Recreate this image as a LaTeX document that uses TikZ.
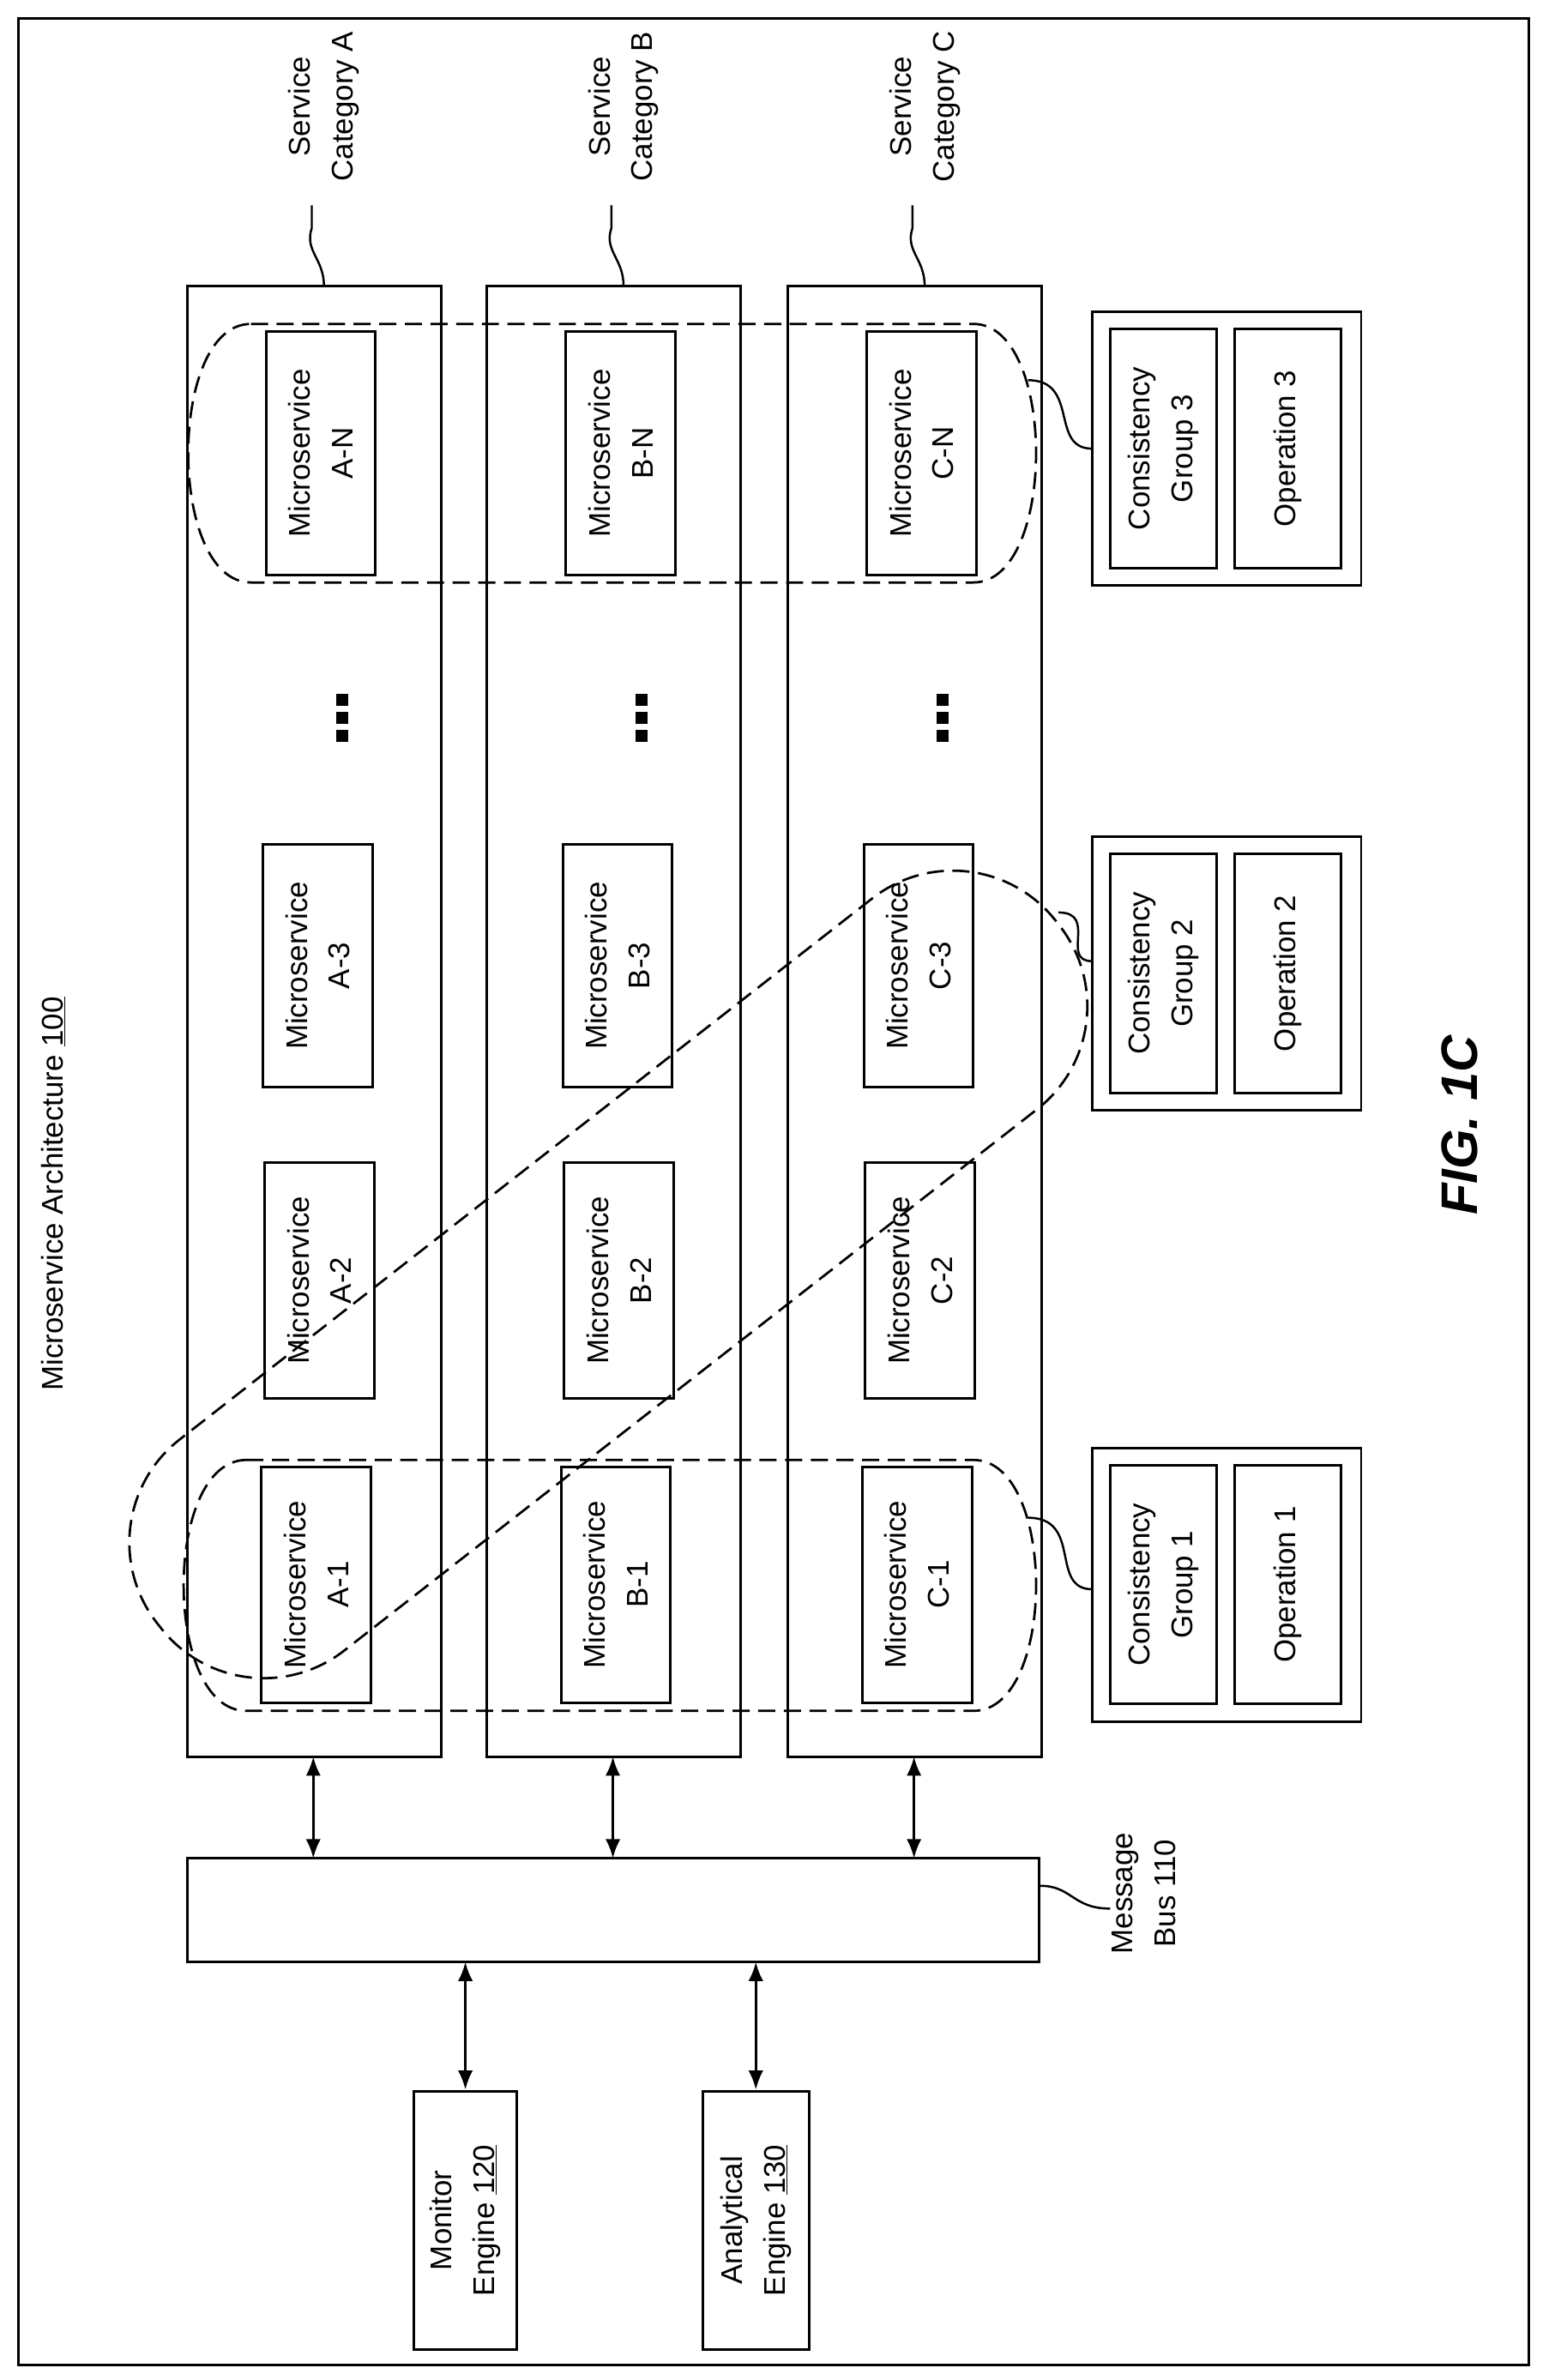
\documentclass[tikz,border=0pt]{standalone}
\usepackage{fontspec}
\setmainfont{Liberation Sans}
\usetikzlibrary{arrows.meta}
\begin{document}
\begin{tikzpicture}[x=0.05cm,y=-0.05cm,
  box/.style={draw,line width=2.4pt},
  txt/.style={rotate=90,align=center,font=\fontsize{28}{40}\selectfont},
  grp/.style={draw,line width=2.2pt,dash pattern=on 16pt off 8pt},
  arr/.style={line width=2.6pt,{Latex[length=18pt,width=14pt]}-{Latex[length=18pt,width=14pt]}},
  lead/.style={line width=2pt}]
\useasboundingbox (0,0) rectangle (1030,1565);
\draw[box] (12,12) rectangle (1005,1555);
\node[txt] (title) at (35,785) {Microservice Architecture \underline{100}};
\foreach \c/\dx [count=\i] in {A/0,B/197,C/395}{
  \draw[box] (123+\dx,188) rectangle (290+\dx,1155);
  \node[box,txt,minimum width=160*0.05cm,minimum height=72*0.05cm] (m\c N) at (211+\dx,298) {Microservice\\\c-N};
  \node[box,txt,minimum width=160*0.05cm,minimum height=72*0.05cm] (m\c 3) at (209+\dx,635) {Microservice\\\c-3};
  \node[box,txt,minimum width=155*0.05cm,minimum height=72*0.05cm] (m\c 2) at (210+\dx,842) {Microservice\\\c-2};
  \node[box,txt,minimum width=155*0.05cm,minimum height=72*0.05cm] (m\c 1) at (208+\dx,1042) {Microservice\\\c-1};
  \foreach \yy in {460,472,484} \fill (225+\dx-4,\yy-4) rectangle (225+\dx+4,\yy+4);
  \node[txt] (cat\c) at (213+\dx,70) {Service\\Category \c};
  \coordinate (ct\c) at (213+\dx,188);
  \coordinate (cl\c) at (205+\dx,135);
  \draw[lead] (ct\c) .. controls (213+\dx,170) and (200+\dx,165) .. (205+\dx,150) -- (cl\c);
  \coordinate (cb\c) at (206+\dx,1155);
  \coordinate (bt\c) at (206+\dx,1222);
  \draw[arr] (cb\c) -- (bt\c);
}
\draw[grp] (165,213) -- (640,213) .. controls (695,213) and (695,383) .. (640,383) -- (165,383) .. controls (110,383) and (110,213) .. (165,213);
\draw[grp] (162,960) -- (640,960) .. controls (695,960) and (695,1125) .. (640,1125) -- (162,1125) .. controls (107,1125) and (107,960) .. (162,960);
\node[grp,rectangle,rounded corners=4.3cm,minimum width=37.5cm,minimum height=8.8cm,rotate=38] (g2) at (400,838) {};
\foreach \n/\y in {3/295,2/640,1/1042}{
  \draw[box] (718,\y-90) rectangle (895,\y+90);
  \node[box,txt,minimum width=157*0.05cm,minimum height=70*0.05cm] (cg\n) at (765,\y) {Consistency\\Group \n};
  \node[box,txt,minimum width=157*0.05cm,minimum height=70*0.05cm] (op\n) at (847,\y) {Operation \n};
}
\draw[lead] (676,250) .. controls (710,250) and (690,295) .. (718,295);
\draw[lead] (696,600) .. controls (722,600) and (697,632) .. (718,632);
\draw[lead] (676,998) .. controls (712,998) and (690,1045) .. (718,1045);
\node[box,minimum width=560*0.05cm,minimum height=68*0.05cm] (bus) at (403,1256) {};
\node[txt] (buslbl) at (752,1245) {Message\\Bus 110};
\draw[lead] (bus.east) ++(0,-16) .. controls (705,1240) and (705,1255) .. (730,1255);
\node[box,txt,minimum width=170*0.05cm,minimum height=68*0.05cm] (mon) at (306,1460) {Monitor\\Engine \underline{120}};
\node[box,txt,minimum width=170*0.05cm,minimum height=70*0.05cm] (ana) at (497,1460) {Analytical\\Engine \underline{130}};
\draw[arr] (306,1290) -- (mon.east);
\draw[arr] (497,1290) -- (ana.east);
\node[rotate=90,font=\fontsize{48}{54}\selectfont\bfseries\itshape] (fig) at (960,740) {FIG. 1C};
\end{tikzpicture}
\end{document}
